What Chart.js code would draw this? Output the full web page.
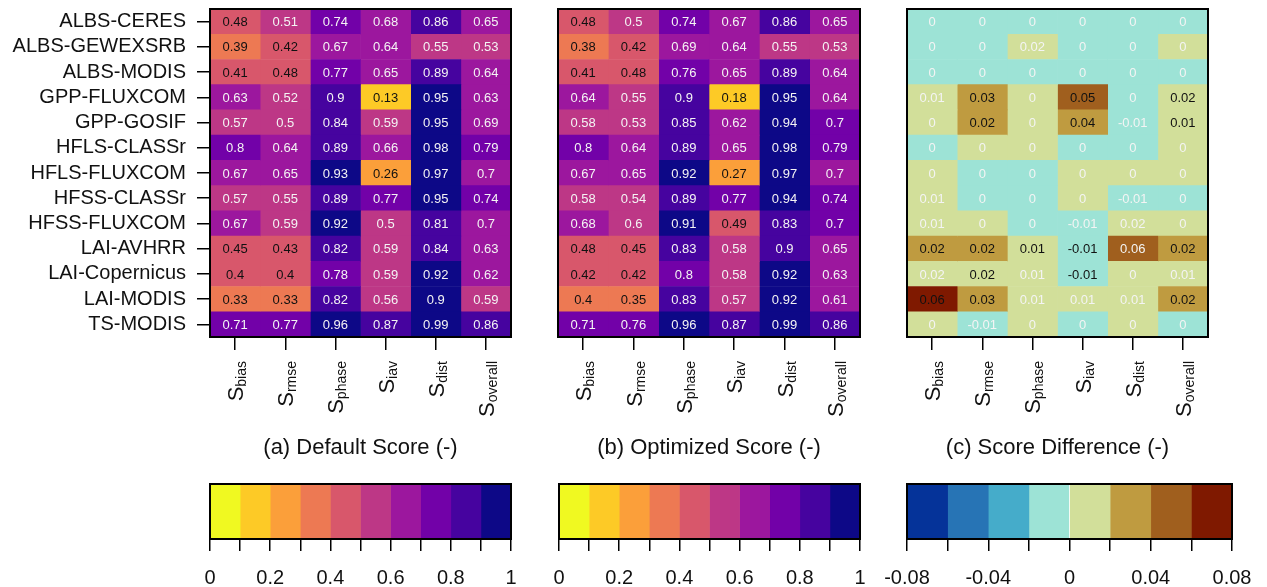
<!DOCTYPE html>
<html><head><meta charset="utf-8">
<script src="https://cdn.jsdelivr.net/npm/chart.js@4.4.0/dist/chart.umd.min.js"></script>
<style>
html,body{margin:0;padding:0;background:#fff;}
body{width:1267px;height:587px;position:relative;overflow:hidden;}
canvas{position:absolute;}
</style></head><body>
<canvas id="ha"></canvas><canvas id="hb"></canvas><canvas id="hc"></canvas>
<canvas id="cba"></canvas><canvas id="cbb"></canvas><canvas id="cbc"></canvas>
<script>
// ---------------- data ----------------
const rowNames = ['ALBS-CERES','ALBS-GEWEXSRB','ALBS-MODIS','GPP-FLUXCOM','GPP-GOSIF','HFLS-CLASSr','HFLS-FLUXCOM','HFSS-CLASSr','HFSS-FLUXCOM','LAI-AVHRR','LAI-Copernicus','LAI-MODIS','TS-MODIS'];
const metricSubs = ['bias','rmse','phase','iav','dist','overall'];
const defaultScore = [
 [0.48,0.51,0.74,0.68,0.86,0.65],
 [0.39,0.42,0.67,0.64,0.55,0.53],
 [0.41,0.48,0.77,0.65,0.89,0.64],
 [0.63,0.52,0.898,0.13,0.95,0.63],
 [0.57,0.50,0.84,0.59,0.95,0.69],
 [0.798,0.64,0.89,0.66,0.98,0.79],
 [0.67,0.65,0.93,0.26,0.97,0.698],
 [0.57,0.55,0.89,0.77,0.95,0.74],
 [0.67,0.59,0.92,0.50,0.81,0.698],
 [0.45,0.43,0.82,0.59,0.84,0.63],
 [0.40,0.40,0.78,0.59,0.92,0.62],
 [0.33,0.33,0.82,0.56,0.90,0.59],
 [0.71,0.77,0.96,0.87,0.99,0.86]
];
const optimizedScore = [
 [0.48,0.50,0.74,0.67,0.86,0.65],
 [0.38,0.42,0.69,0.64,0.55,0.53],
 [0.41,0.48,0.76,0.65,0.89,0.64],
 [0.64,0.55,0.898,0.18,0.95,0.64],
 [0.58,0.53,0.85,0.62,0.94,0.70],
 [0.798,0.64,0.89,0.65,0.98,0.79],
 [0.67,0.65,0.92,0.27,0.97,0.698],
 [0.58,0.54,0.89,0.77,0.94,0.74],
 [0.68,0.598,0.91,0.49,0.83,0.70],
 [0.48,0.45,0.83,0.58,0.898,0.65],
 [0.42,0.42,0.798,0.58,0.92,0.63],
 [0.398,0.35,0.83,0.57,0.92,0.61],
 [0.71,0.76,0.96,0.87,0.99,0.86]
];
const scoreDiff = [
 [-0.001,-0.001,-0.001,-0.001,-0.001,-0.001],
 [-0.001,-0.001,0.018,-0.001,-0.001,0.001],
 [-0.001,-0.001,-0.001,-0.001,-0.001,-0.001],
 [0.01,0.03,0.001,0.05,-0.001,0.018],
 [0.001,0.021,0.001,0.038,-0.01,0.01],
 [-0.001,0.001,0.001,-0.001,-0.001,0.001],
 [0.001,-0.001,-0.001,0.001,0.001,0.001],
 [0.01,-0.001,-0.001,0.001,-0.01,-0.001],
 [0.01,0.001,-0.001,-0.01,0.018,0.001],
 [0.021,0.021,0.01,-0.01,0.059,0.021],
 [0.018,0.018,0.01,-0.01,0.001,0.01],
 [0.064,0.03,0.01,0.01,0.01,0.021],
 [0.001,-0.01,0.001,-0.001,0.001,-0.001]
];
// 1 = significant change (printed in dark text)
const diffSignificant = [
 [0,0,0,0,0,0],[0,0,0,0,0,0],[0,0,0,0,0,0],
 [0,1,0,1,0,1],[0,1,0,1,0,1],
 [0,0,0,0,0,0],[0,0,0,0,0,0],[0,0,0,0,0,0],[0,0,0,0,0,0],
 [1,1,1,1,0,1],[0,1,0,1,0,0],[1,1,0,0,0,1],[0,0,0,0,0,0]
];
const scoreBreaks = [0,0.1,0.2,0.3,0.4,0.5,0.6,0.7,0.8,0.9,1];
const diffBreaks = [-0.08,-0.06,-0.04,-0.02,0,0.02,0.04,0.06,0.08];
const panelTitles = ['(a) Default Score (-)','(b) Optimized Score (-)','(c) Score Difference (-)'];

// ---------------- styles ----------------
const FONT = '"Liberation Sans", Arial, Helvetica, sans-serif';
const plasma = ['#f0f921','#fdca26','#fb9f3a','#ed7953','#d8576b','#bd3786','#9c179e','#7201a8','#46039f','#0d0887'];
const diffPal = ['#053399','#2774b5','#45acca','#9de3d6','#d2df9a','#bf9b40','#a05f1e','#7f1900'];

function binOf(v, breaks){
  for (let i = breaks.length - 2; i >= 0; i--) if (v >= breaks[i] - 1e-12) return i;
  return 0;
}
const scoreColor = v => plasma[Math.min(plasma.length-1, binOf(v, scoreBreaks))];
const diffColor = v => diffPal[Math.min(diffPal.length-1, binOf(v, diffBreaks))];
const fmt2 = v => { const r = Math.round(v*100)/100; return String(r === 0 ? 0 : r); };

function makeHeatmap(id, o){
  const cv = document.getElementById(id);
  cv.width = o.w; cv.height = 470; cv.style.left = o.left + 'px'; cv.style.top = '0px';
  const plug = {
    id: 'cells' + id,
    afterDatasetsDraw(chart){
      const {ctx, chartArea} = chart;
      ctx.save();
      ctx.font = '13px ' + FONT;
      ctx.textAlign = 'center'; ctx.textBaseline = 'middle';
      chart.data.datasets.forEach((ds, c) => {
        chart.getDatasetMeta(c).data.forEach((el, r) => {
          const p = el.getCenterPoint();
          ctx.fillStyle = o.textColor(r, c);
          ctx.fillText(fmt2(o.values[r][c]), p.x, p.y + 1);
        });
      });
      ctx.strokeStyle = '#000'; ctx.lineWidth = 2;
      ctx.strokeRect(chartArea.left, chartArea.top, chartArea.width, chartArea.height);
      // rotated column labels with subscripts
      const xs = chart.scales.x;
      ctx.fillStyle = '#111';
      metricSubs.forEach((sub, i) => {
        const x = xs.getPixelForValue(i + 0.5);
        ctx.save();
        ctx.translate(x, 361);
        ctx.rotate(-Math.PI/2);
        ctx.textAlign = 'left'; ctx.textBaseline = 'alphabetic';
        ctx.font = '22px ' + FONT; const w1 = ctx.measureText('S').width;
        ctx.font = '14px ' + FONT; const w2 = ctx.measureText(sub).width;
        ctx.font = '22px ' + FONT; ctx.fillText('S', -(w1 + w2), 8);
        ctx.font = '14px ' + FONT; ctx.fillText(sub, -w2, 11);
        ctx.restore();
      });
      ctx.font = '22px ' + FONT; ctx.textAlign = 'center'; ctx.textBaseline = 'middle';
      ctx.fillText(o.title, (chartArea.left + chartArea.right)/2, 448);
      ctx.restore();
    }
  };
  new Chart(cv, {
    type: 'bar',
    data: { labels: rowNames, datasets: metricSubs.map((m, c) => ({
      label: m,
      data: rowNames.map(() => [c, c + 1]),
      backgroundColor: rowNames.map((_, r) => o.color(o.values[r][c])),
      grouped: false, barPercentage: 1, categoryPercentage: 1, borderWidth: 0
    }))},
    options: {
      indexAxis: 'y', responsive: false, animation: false, events: [],
      layout: { padding: { left: o.padL, right: 1, top: 9, bottom: 0 } },
      plugins: { legend: { display: false }, tooltip: { enabled: false } },
      scales: {
        y: { type: 'category', display: o.showY, offset: true,
             grid: { offset: false, drawOnChartArea: false, drawTicks: true, tickLength: 13, color: '#000', lineWidth: 1.5 },
             border: { display: false },
             ticks: { font: { family: FONT, size: 20 }, color: '#111', padding: 11, autoSkip: false },
             afterFit(s){ s.width = o.showY ? 210 : 0; s.paddingTop = 0; s.paddingBottom = 0; } },
        x: { type: 'linear', min: 0, max: 6,
             afterBuildTicks(s){ s.ticks = metricSubs.map((_, i) => ({ value: i + 0.5 })); },
             grid: { drawOnChartArea: false, drawTicks: true, tickLength: 13, color: '#000', lineWidth: 1.5 },
             border: { display: false },
             ticks: { callback: () => '', autoSkip: false, maxRotation: 0 },
             afterFit(s){ s.height = 133; s.paddingLeft = 0; s.paddingRight = 0; } }
      }
    },
    plugins: [plug]
  });
}

function makeColorbar(id, o){
  const cv = document.getElementById(id);
  cv.width = o.w; cv.height = 113; cv.style.left = o.left + 'px'; cv.style.top = '474px';
  const plug = { id: 'frame' + id, afterDatasetsDraw(chart){
    const {ctx, chartArea} = chart; ctx.save();
    ctx.strokeStyle = '#000'; ctx.lineWidth = 2;
    ctx.strokeRect(chartArea.left, chartArea.top, chartArea.width, chartArea.height);
    ctx.restore(); } };
  new Chart(cv, {
    type: 'bar',
    data: { labels: [''], datasets: o.colors.map((col, i) => ({
      data: [[o.breaks[i], o.breaks[i+1]]], backgroundColor: col,
      grouped: false, barPercentage: 1, categoryPercentage: 1, borderWidth: 0 })) },
    options: {
      indexAxis: 'y', responsive: false, animation: false, events: [],
      layout: { padding: { left: o.padL, right: o.padR, top: 10, bottom: 0 } },
      plugins: { legend: { display: false }, tooltip: { enabled: false } },
      scales: {
        y: { display: false, afterFit(s){ s.width = 0; } },
        x: { type: 'linear', min: o.breaks[0], max: o.breaks[o.breaks.length-1],
             ticks: { stepSize: o.step, autoSkip: false, maxRotation: 0, font: { family: FONT, size: 20 }, color: '#111', padding: 15, callback: o.label },
             grid: { drawOnChartArea: false, drawTicks: true, tickLength: 12, color: '#000', lineWidth: 1.5 },
             border: { display: false },
             afterFit(s){ s.height = 48; s.paddingLeft = 0; s.paddingRight = 0; } }
      }
    },
    plugins: [plug]
  });
}

const scoreText = vals => (r, c) => binOf(vals[r][c], scoreBreaks) < 5 ? '#111' : '#f4f4f4';
makeHeatmap('ha', { left: 0, w: 512, padL: 0, showY: true, values: defaultScore, color: scoreColor, textColor: scoreText(defaultScore), title: panelTitles[0] });
makeHeatmap('hb', { left: 548, w: 313, padL: 10, showY: false, values: optimizedScore, color: scoreColor, textColor: scoreText(optimizedScore), title: panelTitles[1] });
makeHeatmap('hc', { left: 897, w: 312, padL: 10, showY: false, values: scoreDiff, color: diffColor, textColor: (r, c) => diffSignificant[r][c] ? '#111' : '#f4f4f4', title: panelTitles[2] });

const scoreLabel = v => { const k = Math.round(v*10); return k % 2 === 0 ? String(k/10) : ''; };
const diffLabel = v => { const k = Math.round(v*100); return k % 4 === 0 ? String(k === 0 ? 0 : k/100) : ''; };
makeColorbar('cba', { left: 190, w: 340, padL: 20, padR: 19, breaks: scoreBreaks, colors: plasma, step: 0.1, label: scoreLabel });
makeColorbar('cbb', { left: 539, w: 340, padL: 20, padR: 19, breaks: scoreBreaks, colors: plasma, step: 0.1, label: scoreLabel });
makeColorbar('cbc', { left: 880, w: 387, padL: 27, padR: 35, breaks: diffBreaks, colors: diffPal, step: 0.02, label: diffLabel });
</script>
</body></html>
